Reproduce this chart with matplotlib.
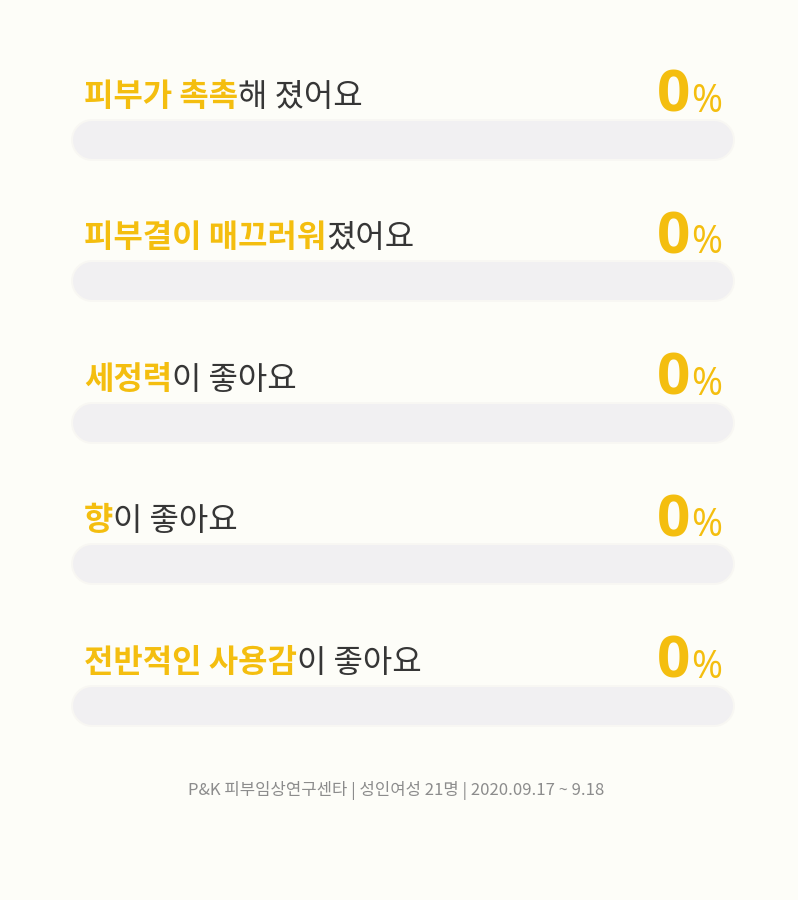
import numpy as np
import matplotlib
matplotlib.use('Agg')
import matplotlib.pyplot as plt

plt.rcParams['font.family'] = ['Noto Sans CJK KR', 'DejaVu Sans']

# 항목 (강조 부분 + 나머지)
highlights = ['피부가 촉촉', '피부결이 매끄러워', '세정력', '향', '전반적인 사용감']
rests = ['해 졌어요', '졌어요', '이 좋아요', '이 좋아요', '이 좋아요']
values = [0, 0, 0, 0, 0]  # 응답 비율 (%)
footer = 'P&K 피부임상연구센타 | 성인여성 21명 | 2020.09.17 ~ 9.18'

# 색상
bg = '#fdfdf8'
track = '#f1f0f2'
yellow = '#f4be0f'
dark = '#363636'

W, H, DPI = 798, 900, 100
PX = 72 / DPI  # px -> pt

fig = plt.figure(figsize=(W / DPI, H / DPI), dpi=DPI, facecolor=bg)

# 막대 영역 (px)
bar_left, bar_right, bar_h = 73, 733, 38
first_y, step = 140, 141.5
x0 = bar_left + bar_h / 2
x1 = bar_right - bar_h / 2
ax = fig.add_axes([x0 / W, 0, (x1 - x0) / W, 1])
ax.set_facecolor('none')
ax.set_xlim(0, 100)
ax.set_ylim((H - first_y) / step, -first_y / step)
ax.axis('off')

y = np.arange(len(values))

for i in y:
    # 부드러운 그림자 + 배경 트랙
    ax.plot([0, 100], [i, i], lw=(bar_h + 4) * PX, color='#f8f7f3',
            solid_capstyle='round', zorder=1, clip_on=False)
    ax.plot([0, 100], [i, i], lw=bar_h * PX, color=track,
            solid_capstyle='round', zorder=2, clip_on=False)

# 값 막대 (0%이면 보이지 않음)
ax.barh(y, values, height=bar_h / step, color=yellow, zorder=3)

for i in y:
    t1 = ax.annotate(highlights[i], xy=(0, i), xytext=(-8 * PX, 34 * PX),
                     textcoords='offset points', ha='left', va='baseline',
                     fontsize=23, fontweight='bold', color=yellow)
    ax.annotate(rests[i], xy=(1, 0), xycoords=t1, ha='left', va='bottom',
                fontsize=23, fontweight='regular', color=dark)

    ax.annotate('%', xy=(100, i), xytext=(8 * PX, 28 * PX),
                textcoords='offset points', ha='right', va='baseline',
                fontsize=27, fontweight='medium', color=yellow,
                family=['Open Sans', 'DejaVu Sans'])
    ax.annotate(f'{values[i]}', xy=(100, i), xytext=(-24 * PX, 28 * PX),
                textcoords='offset points', ha='right', va='baseline',
                fontsize=42, fontweight='bold', color=yellow,
                family=['Open Sans', 'DejaVu Sans'])

fig.text(0.497, 1 - 790 / H, footer, ha='center', va='center',
         fontsize=12, fontweight='light', color='#8c8c8c')

plt.savefig('out.png', dpi=DPI, facecolor=bg)
